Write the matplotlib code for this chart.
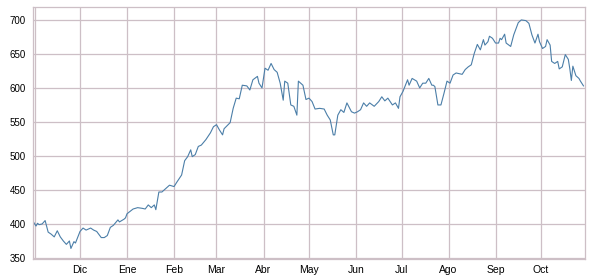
import pandas as pd
import matplotlib
matplotlib.use('Agg')
import matplotlib.pyplot as plt
import matplotlib.dates as mdates

plt.rcParams['font.family'] = ['Liberation Sans', 'DejaVu Sans']

# days since 1 Nov 2012
day_offset = [-1, 1, 2, 3, 5, 7, 9, 11, 13, 15, 17, 19, 21, 23, 24, 26, 27, 30,
              32, 34, 37, 39, 41, 44, 46, 48, 50, 52, 55, 56, 59, 60, 61, 65,
              68, 71, 73, 75, 77, 79, 80, 82, 84, 86, 89, 92, 94, 97, 99, 101,
              103, 104, 106, 108, 110, 113, 116, 118, 120, 122, 124, 125, 129,
              131, 133, 135, 137, 140, 142, 144, 147, 148, 150, 152, 154, 156,
              158, 160, 162, 164, 165, 167, 169, 171, 173, 174, 177, 179, 181,
              183, 185, 188, 191, 193, 195, 197, 198, 200, 202, 204, 206, 209,
              211, 213, 215, 217, 219, 221, 224, 227, 229, 231, 233, 236, 238,
              240, 241, 243, 246, 247, 249, 252, 254, 256, 258, 260, 262, 263,
              264, 266, 268, 270, 272, 274, 276, 278, 282, 284, 286, 288, 290,
              292, 294, 296, 297, 299, 300, 302, 304, 306, 307, 308, 310, 311,
              314, 316, 319, 321, 324, 326, 328, 330, 332, 333, 335, 337, 338,
              340, 341, 343, 345, 346, 348, 350, 352, 353, 354, 355, 357, 359,
              360, 362]

values = [404, 397, 401, 399, 400, 405, 388, 385, 381, 390, 381, 375, 370, 375,
          364, 374, 372, 389, 394, 391, 394, 391, 389, 380, 380, 383, 395, 398,
          406, 403, 407, 409, 415, 422, 424, 423, 422, 428, 424, 428, 421, 447,
          447, 451, 457, 455, 462, 472, 493, 499, 509, 499, 502, 514, 516, 524,
          534, 543, 546, 538, 531, 540, 549, 570, 585, 584, 604, 603, 597, 612,
          617, 607, 600, 629, 626, 636, 627, 623, 607, 582, 610, 607, 575, 573,
          560, 610, 604, 583, 585, 580, 569, 570, 569, 560, 553, 531, 531, 560,
          568, 564, 578, 565, 563, 565, 568, 578, 573, 578, 573, 580, 587, 581,
          585, 575, 578, 570, 587, 595, 612, 604, 614, 610, 600, 607, 607, 614,
          604, 604, 602, 575, 575, 592, 610, 607, 619, 622, 620, 627, 631, 634,
          651, 664, 656, 671, 663, 668, 676, 673, 666, 666, 673, 671, 679, 666,
          661, 678, 696, 700, 699, 695, 678, 666, 679, 668, 658, 661, 671, 663,
          639, 636, 639, 628, 631, 649, 642, 628, 611, 632, 618, 614, 610, 603]

month_labels = ['', 'Dic', 'Ene', 'Feb', 'Mar', 'Abr', 'May', 'Jun', 'Jul',
                'Ago', 'Sep', 'Oct']

start = pd.Timestamp('2012-11-01')
dates = start + pd.to_timedelta(day_offset, unit='D')
month_starts = pd.date_range('2012-11-01', periods=len(month_labels), freq='MS')

grid_color = '#cdbfc6'

fig = plt.figure(figsize=(5.9, 2.75), dpi=100)
ax = fig.add_axes([33 / 590, 1 - 259 / 275, 552 / 590, 252 / 275])

ax.plot(dates, values, color='#4b7ea8', linewidth=0.8)

ax.set_xlim(start - pd.Timedelta(days=1), start + pd.Timedelta(days=363))
ax.set_ylim(348.5, 719)
ax.set_yticks(range(350, 701, 50))
ax.set_xticks(month_starts)
ax.set_xticklabels(month_labels)

ax.grid(True, color=grid_color, linewidth=0.9)
ax.set_axisbelow(True)
for sp in ax.spines.values():
    sp.set_color(grid_color)
    sp.set_linewidth(0.9)

ax.tick_params(axis='both', length=0, colors='black')
ax.tick_params(axis='x', pad=4, labelsize=7.5)
ax.tick_params(axis='y', pad=5, labelsize=7)

fig.savefig('out.png', dpi=100)
